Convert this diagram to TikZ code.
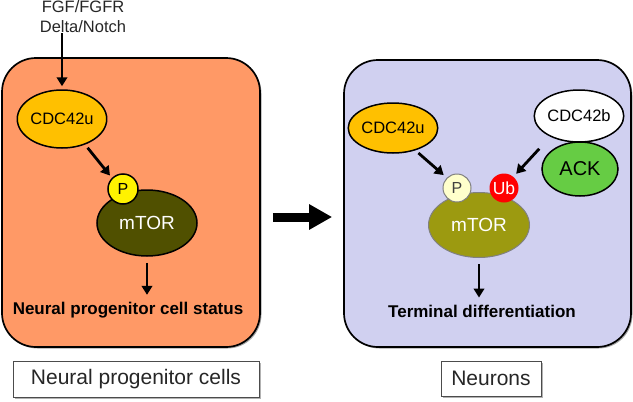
\documentclass[tikz,border=0pt]{standalone}
\usepackage{fontspec}
\setmainfont{Liberation Sans}
\usetikzlibrary{arrows.meta,shadows,shapes.geometric}
\newcommand\fsz[2]{\fontsize{#1}{#2}\selectfont}
\definecolor{cellorange}{HTML}{FF9966}
\definecolor{celllav}{HTML}{D0D0F0}
\definecolor{cdcu}{HTML}{FFC000}
\definecolor{mtordark}{HTML}{505000}
\definecolor{mtorolive}{HTML}{9C9A10}
\definecolor{plight}{HTML}{FFFFCC}
\definecolor{ackgreen}{HTML}{66CC44}
\begin{document}
\begin{tikzpicture}[x=1pt,y=-1pt,
  cell/.style={draw=black,line width=1.7pt,rounded corners=34pt,inner sep=0pt,
    drop shadow={shadow xshift=1.5pt,shadow yshift=-1.5pt,opacity=0.35,fill=black}},
  mol/.style={ellipse,draw=black,line width=1.5pt,inner sep=0pt},
  arr/.style={line width=2.8pt,-{Triangle[length=9pt,width=10.5pt]}},
  lab/.style={draw=black!70,line width=1pt,fill=white,inner sep=0pt,
    drop shadow={shadow xshift=2pt,shadow yshift=-2pt,opacity=0.5,fill=black!60}}
]
\useasboundingbox (0,0) rectangle (633,402);

% cells
\node[cell,fill=cellorange,minimum width=258pt,minimum height=289pt] (left) at (131,202.5) {};
\node[cell,fill=celllav,minimum width=287pt,minimum height=287pt] (right) at (487.5,203.5) {};

% big arrow between cells
\draw[line width=9pt,-{Triangle[length=23pt,width=24pt]}]
  ([shift={(12,14.5)}]left.east) -- ([shift={(-11,13.5)}]right.west);

% left cell
\node[align=center,inner sep=0pt,font=\fsz{16.5}{20},text=black!85] (fgf) at (83,17) {FGF/FGFR\\Delta/Notch};
\node[mol,fill=cdcu,minimum width=80pt,minimum height=58pt,font=\fsz{16.5}{19}] (cdcL) at (62,119) {CDC42u};
\node[mol,fill=mtordark,minimum width=100pt,minimum height=66pt,text=white,font=\fsz{19}{22}] (mtorL) at (147,223) {mTOR};
\node[circle,draw=black,line width=1.5pt,fill=yellow,minimum size=30pt,inner sep=0pt,font=\fsz{16}{19}] (pL) at (123,189) {P};
\node[inner sep=0pt,font=\fsz{17}{20}\bfseries] (statusL) at (128,310) {Neural progenitor cell status};
\node[lab,minimum width=246pt,minimum height=36pt,font=\fsz{21}{24},text=black!85] (labL) at (136,379) {Neural progenitor cells};

\draw[arr,shorten >=3pt] (fgf.south -| cdcL.north) -- (cdcL.north);
\draw[arr,shorten <=4pt,shorten >=3pt] (cdcL.-48) -- (pL.135);
\draw[arr,shorten <=6pt,shorten >=7pt] (mtorL.south) -- (statusL.north -| mtorL.south);

% right cell
\node[mol,fill=cdcu,minimum width=80pt,minimum height=50pt,font=\fsz{16.5}{19}] (cdcR) at (393,128) {CDC42u};
\node[mol,fill=white,minimum width=82pt,minimum height=52pt,font=\fsz{16.5}{19}] (cdcb) at (579,116) {CDC42b};
\node[mol,fill=ackgreen,minimum width=76pt,minimum height=54pt,font=\fsz{20}{23}] (ack) at (580,169) {ACK};
\node[ellipse,draw=black!50,line width=1pt,inner sep=0pt,fill=mtorolive,minimum width=101pt,minimum height=65pt,text=white,font=\fsz{19}{22}] (mtorR) at (479,225) {mTOR};
\node[circle,draw=black!50,line width=1pt,fill=plight,minimum size=28pt,inner sep=0pt,text=black!75,font=\fsz{16}{19}] (pR) at (457,188) {P};
\node[circle,fill=red,minimum size=29pt,inner sep=0pt,text=white,font=\fsz{17.5}{20}] (ub) at (504,188) {Ub};
\node[inner sep=0pt,font=\fsz{17}{20}\bfseries] (termR) at (482,311) {Terminal differentiation};
\node[lab,minimum width=100pt,minimum height=35pt,font=\fsz{21}{24},text=black!85] (labR) at (491,378.5) {Neurons};

\draw[arr,shorten <=4pt,shorten >=4pt] (cdcR.-45) -- (pR.135);
\draw[arr,shorten >=4pt] ([shift={(-2,6)}]ack.west |- cdcb.south) -- (ub.50);
\draw[arr,shorten <=6pt,shorten >=7pt] (mtorR.south) -- (termR.north -| mtorR.south);
\end{tikzpicture}
\end{document}
